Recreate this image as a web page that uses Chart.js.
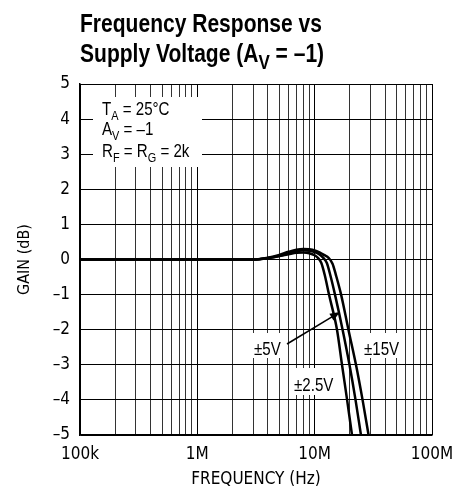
<!DOCTYPE html>
<html>
<head>
<meta charset="utf-8">
<script src="https://cdn.jsdelivr.net/npm/chart.js@4.4.1/dist/chart.umd.min.js"></script>
<style>
  body { margin: 0; background: #fff; }
  #chart { display: block; }
</style>
</head>
<body>
<canvas id="chart" width="466" height="495"></canvas>
<script>
// frequency (Hz) and gain (dB), one pair of arrays per supply
const freq2v5 = [1e5, 1e6, 3e6, 4e6, 5e6, 6e6, 7e6, 8e6, 9e6, 10e6, 10.7e6, 11.4e6, 12.2e6, 13.25e6, 15.5e6, 17.1e6, 18.9e6, 20.8e6];
const gain2v5 = [0, 0, 0, 0.04, 0.1, 0.15, 0.19, 0.2, 0.18, 0.12, 0.04, -0.1, -0.45, -1, -2, -3, -4, -5];

const freq5v = [1e5, 1e6, 3e6, 4e6, 5e6, 6e6, 7e6, 8e6, 9e6, 10e6, 11e6, 11.9e6, 12.7e6, 13.6e6, 14.9e6, 17.3e6, 19.8e6, 22.3e6, 24.8e6];
const gain5v = [0, 0, 0, 0.04, 0.1, 0.17, 0.23, 0.26, 0.25, 0.21, 0.14, 0.04, -0.1, -0.45, -1, -2, -3, -4, -5];

const freq15v = [1e5, 1e6, 3e6, 3.5e6, 4e6, 5e6, 6e6, 7e6, 8e6, 9e6, 10e6, 11e6, 12e6, 13.2e6, 14.2e6, 15.2e6, 16.8e6, 19.4e6, 22.5e6, 25.6e6, 28.8e6];
const gain15v = [0, 0, 0, 0.02, 0.05, 0.13, 0.22, 0.28, 0.3, 0.29, 0.26, 0.2, 0.13, 0.04, -0.12, -0.45, -1, -2, -3, -4, -5];

const xTickValues = [1e5, 1e6, 1e7, 1e8];
const xTickLabels = ["100k", "1M", "10M", "100M"];
const yMin = -5, yMax = 5;

const AXIS_FONT = "'DejaVu Sans Condensed', 'Liberation Sans', sans-serif";
const TEXT_FONT = "'Liberation Sans', Arial, sans-serif";

function toPoints(xs, ys) {
    return xs.map((x, i) => ({ x: x, y: ys[i] }));
}

// draw a run of text squeezed horizontally (condensed look); some pieces are subscripts
function drawRich(ctx, parts, x, y, size, sx, weight, subScale) {
    parts.forEach(p => {
        const sub = p[1];
        const s = sub ? Math.round(size * (subScale || 0.74)) : size;
        ctx.font = (weight || "") + " " + s + "px " + TEXT_FONT;
        ctx.save();
        ctx.translate(x, sub ? y + size * 0.26 : y);
        ctx.scale(sx, 1);
        ctx.fillText(p[0], 0, 0);
        ctx.restore();
        x += ctx.measureText(p[0]).width * sx;
    });
}

const annotations = {
    id: "annotations",
    beforeDatasetsDraw(chart) {
        const ctx = chart.ctx;
        const ca = chart.chartArea;
        ctx.save();
        ctx.fillStyle = "#fff";
        ctx.fillRect(ca.left + 13, ca.top + 13, 109, 70);
        ctx.fillRect(252, 333, 33, 25);
        ctx.fillRect(362, 333, 40, 25);
        ctx.fillRect(292, 368, 48, 27);
        ctx.fillStyle = "#000";
        ctx.textBaseline = "alphabetic";
        const sx = 0.84;
        drawRich(ctx, [["T"], ["A", true], [" = 25°C"]], ca.left + 22, ca.top + 31, 18, sx);
        drawRich(ctx, [["A"], ["V", true], [" = –1"]], ca.left + 22, ca.top + 51, 18, sx);
        drawRich(ctx, [["R"], ["F", true], [" = R"], ["G", true], [" = 2k"]], ca.left + 22, ca.top + 73, 18, sx);
        drawRich(ctx, [["±5V"]], 254, 355, 18, sx);
        drawRich(ctx, [["±15V"]], 364, 355, 18, sx);
        drawRich(ctx, [["±2.5V"]], 294, 391, 18, sx);
        ctx.restore();
    },
    afterDatasetsDraw(chart) {
        const ctx = chart.ctx;
        ctx.save();
        // arrow from the ±5V label to its curve
        const x0 = 287, y0 = 344, x1 = 340, y1 = 312;
        const a = Math.atan2(y1 - y0, x1 - x0);
        ctx.strokeStyle = "#000";
        ctx.lineWidth = 1.5;
        ctx.beginPath();
        ctx.moveTo(x0, y0);
        ctx.lineTo(x1 - 6 * Math.cos(a), y1 - 6 * Math.sin(a));
        ctx.stroke();
        ctx.fillStyle = "#000";
        ctx.beginPath();
        ctx.moveTo(x1, y1);
        ctx.lineTo(x1 - 10 * Math.cos(a) + 4 * Math.sin(a), y1 - 10 * Math.sin(a) - 4 * Math.cos(a));
        ctx.lineTo(x1 - 10 * Math.cos(a) - 4 * Math.sin(a), y1 - 10 * Math.sin(a) + 4 * Math.cos(a));
        ctx.closePath();
        ctx.fill();

        // title, squeezed so the first line spans the same width as the original
        ctx.textBaseline = "alphabetic";
        ctx.font = "bold 26px " + TEXT_FONT;
        const sx = 242 / ctx.measureText("Frequency Response vs").width;
        drawRich(ctx, [["Frequency Response vs"]], 80, 32, 26, sx, "bold");
        drawRich(ctx, [["Supply Voltage (A"], ["V", true], [" = –1)"]], 80, 62, 26, sx, "bold", 0.82);
        ctx.restore();
    }
};

const lineStyle = {
    borderColor: "#000",
    borderWidth: 2.5,
    pointRadius: 0,
    fill: false,
    cubicInterpolationMode: "monotone"
};

new Chart(document.getElementById("chart"), {
    type: "line",
    data: {
        datasets: [
            Object.assign({ label: "±2.5V", data: toPoints(freq2v5, gain2v5) }, lineStyle),
            Object.assign({ label: "±5V", data: toPoints(freq5v, gain5v) }, lineStyle),
            Object.assign({ label: "±15V", data: toPoints(freq15v, gain15v) }, lineStyle)
        ]
    },
    options: {
        responsive: false,
        animation: false,
        layout: { padding: { top: 84, right: 34, left: 0, bottom: 0 } },
        plugins: { legend: { display: false }, tooltip: { enabled: false } },
        scales: {
            x: {
                type: "logarithmic",
                min: 1e5,
                max: 1e8,
                afterBuildTicks: (scale) => {
                    const t = [];
                    for (let e = 5; e < 8; e++) {
                        for (let m = 1; m < 10; m++) t.push({ value: m * Math.pow(10, e) });
                    }
                    t.push({ value: 1e8 });
                    scale.ticks = t;
                },
                afterFit: (scale) => { scale.height = 60; },
                ticks: {
                    autoSkip: false,
                    maxRotation: 0,
                    padding: 9,
                    color: "#000",
                    font: { family: AXIS_FONT, size: 17 },
                    callback: (v) => {
                        const i = xTickValues.indexOf(v);
                        return i >= 0 ? xTickLabels[i] : "";
                    }
                },
                grid: {
                    drawTicks: false,
                    lineWidth: 1,
                    color: (c) => xTickValues.indexOf(c.tick.value) >= 0 ? "#000" : "#333"
                },
                border: { color: "#000", width: 1.5 },
                title: {
                    display: true,
                    text: "FREQUENCY (Hz)",
                    color: "#000",
                    font: { family: AXIS_FONT, size: 17 },
                    padding: { top: 0, bottom: 5 }
                }
            },
            y: {
                min: yMin,
                max: yMax,
                afterFit: (scale) => { scale.width = 80; },
                ticks: {
                    stepSize: 1,
                    padding: 10,
                    color: "#000",
                    font: { family: AXIS_FONT, size: 17 },
                    callback: (v) => v < 0 ? "–" + Math.abs(v) : String(v)
                },
                grid: { drawTicks: false, color: "#000", lineWidth: 1 },
                border: { color: "#000", width: 1.5 },
                title: {
                    display: true,
                    text: "GAIN (dB)",
                    color: "#000",
                    font: { family: AXIS_FONT, size: 16 },
                    padding: { top: 15, bottom: 0 }
                }
            }
        }
    },
    plugins: [annotations]
});
</script>
</body>
</html>
